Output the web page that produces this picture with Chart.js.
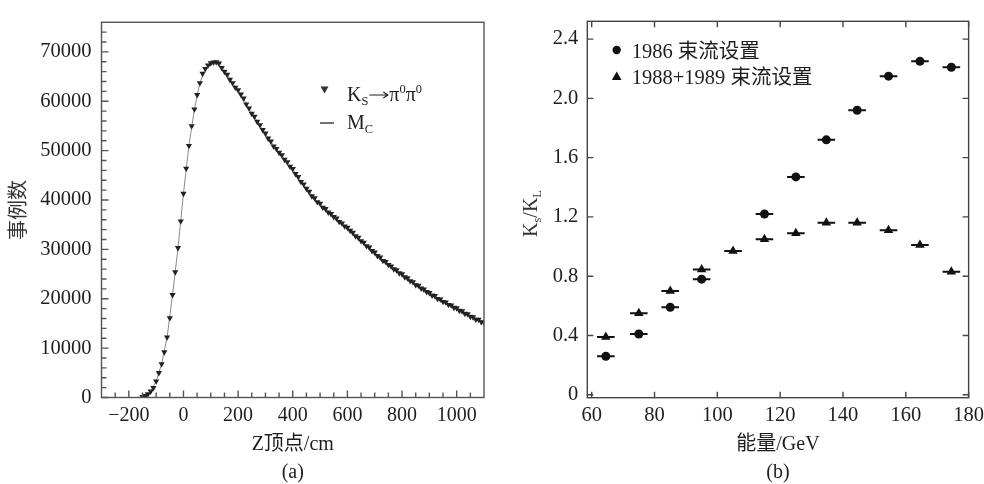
<!DOCTYPE html>
<html lang="zh">
<head>
<meta charset="utf-8">
<script src="https://cdn.jsdelivr.net/npm/chart.js@4.4.1/dist/chart.umd.min.js"></script>
<style>
  html, body { margin: 0; padding: 0; background: #fff; width: 984px; height: 484px; overflow: hidden; }
  .pane { position: absolute; top: 0; width: 500px; height: 484px; }
  #paneA { left: 0; }
  #paneB { left: 490px; }
</style>
</head>
<body>
<div class="pane" id="paneA"><canvas id="chartA" width="500" height="484"></canvas></div>
<div class="pane" id="paneB"><canvas id="chartB" width="500" height="484"></canvas></div>
<script>
// ==================== (a) Z 顶点分布 ====================
const zBins = [
  -150, -140, -130, -120, -110, -100, -90, -80, -70, -60, -50, -40, -30, -20, -10,
  0, 10, 20, 30, 40, 50, 60, 70, 80, 90, 100, 110, 120, 130, 140, 150, 160, 170, 180, 190,
  200, 210, 220, 230, 240, 250, 260, 270, 280, 290, 300, 310, 320, 330, 340, 350, 360, 370, 380, 390,
  400, 410, 420, 430, 440, 450, 460, 470, 480, 490, 500, 510, 520, 530, 540, 550, 560, 570, 580, 590,
  600, 610, 620, 630, 640, 650, 660, 670, 680, 690, 700, 710, 720, 730, 740, 750, 760, 770, 780, 790,
  800, 810, 820, 830, 840, 850, 860, 870, 880, 890, 900, 910, 920, 930, 940, 950, 960, 970, 980, 990,
  1000, 1010, 1020, 1030, 1040, 1050, 1060, 1070, 1080, 1090, 1100
];
const ksCounts = [
  120, 330, 700, 1250, 1950, 3300, 5000, 6800, 9200, 12200, 16100, 20800, 25400, 30300, 35700,
  41300, 46400, 51000, 55000, 58400, 61300, 63700, 65600, 66600, 67300, 67750, 67900, 67950, 67700, 66800, 66000, 65400, 64400, 63700, 62800,
  62300, 61400, 60600, 59400, 58600, 57500, 56900, 55900, 55200, 54200, 53500, 52500, 51900, 50900, 50400, 49600, 49100, 48200, 47700, 46800,
  46300, 45300, 44700, 43700, 43200, 42300, 41700, 40800, 40400, 39600, 39300, 38500, 38200, 37500, 37200, 36600, 36300, 35600, 35300, 34700,
  34400, 33800, 33400, 32700, 32400, 31700, 31400, 30700, 30400, 29700, 29400, 28700, 28400, 27700, 27500, 26900, 26600, 26000, 25800, 25200,
  25000, 24400, 24200, 23600, 23400, 22800, 22700, 22100, 21900, 21400, 21200, 20700, 20600, 20000, 19900, 19400, 19300, 18800, 18700, 18200,
  18100, 17600, 17500, 17000, 16900, 16400, 16300, 15800, 15800, 15300, 15200
];
// Monte Carlo
const mcZ = [
  -200, -180, -160, -140, -120, -100, -80, -60, -40, -20, 0, 20, 40, 60, 80, 100, 120, 140, 160, 180,
  200, 220, 240, 260, 280, 300, 320, 340, 360, 380, 400, 420, 440, 460, 480, 500, 520, 540, 560, 580,
  600, 620, 640, 660, 680, 700, 720, 740, 760, 780, 800, 820, 840, 860, 880, 900, 920, 940, 960, 980,
  1000, 1020, 1040, 1060, 1080, 1100
];
const mcCounts = [
  0, 0, 40, 320, 1250, 3300, 6800, 12200, 20800, 30300, 41300, 51000, 58400, 63700, 66600, 67700, 67900, 66800, 65300, 63700,
  62200, 60500, 58500, 56800, 55100, 53400, 51800, 50300, 49000, 47600, 46200, 44600, 43100, 41600, 40300, 39200, 38100, 37100, 36200, 35200,
  34300, 33300, 32300, 31300, 30300, 29300, 28300, 27400, 26500, 25700, 24900, 24100, 23300, 22600, 21800, 21100, 20500, 19800, 19200, 18600,
  18000, 17400, 16800, 16200, 15700, 15200
];
const zTicks = [-200, 0, 200, 400, 600, 800, 1000];
const countTicks = [0, 10000, 20000, 30000, 40000, 50000, 60000, 70000];

// ==================== (b) K_S/K_L 比值 ====================
const energy86 = [64.5, 75, 85, 95, 115, 125, 134.7, 144.5, 154.5, 164.5, 174.5];
const ratio86 = [0.26, 0.41, 0.59, 0.78, 1.22, 1.47, 1.72, 1.92, 2.15, 2.25, 2.21];
const energy8889 = [64.5, 75, 85, 95, 105, 115, 125, 134.7, 144.5, 154.5, 164.5, 174.5];
const ratio8889 = [0.39, 0.55, 0.70, 0.845, 0.97, 1.05, 1.09, 1.16, 1.16, 1.11, 1.01, 0.83];
const binHalfWidth = 2.8;
const energyTicks = [60, 80, 100, 120, 140, 160, 180];
const ratioTicks = [0, 0.4, 0.8, 1.2, 1.6, 2.0, 2.4];

const FAMILY = '"Liberation Serif", "Noto Sans CJK SC", serif';
const INK = '#1e1e1e';

// chữ có chỉ số trên / dưới
function richText(ctx, parts, x, y, size, align) {
  const runs = parts.map(([t, k]) => {
    const s = k ? size * 0.62 : size;
    ctx.font = `${s}px ${FAMILY}`;
    return { t, k, s, w: ctx.measureText(t).width };
  });
  const total = runs.reduce((a, r) => a + r.w, 0);
  let cx = align === 'center' ? x - total / 2 : x;
  ctx.textAlign = 'left';
  ctx.textBaseline = 'alphabetic';
  runs.forEach(r => {
    ctx.font = `${r.s}px ${FAMILY}`;
    const dy = r.k === 'sub' ? size * 0.22 : r.k === 'sup' ? -size * 0.4 : 0;
    ctx.fillText(r.t, cx, y + dy);
    cx += r.w;
  });
  return cx;
}

// khung + vạch chia hướng vào trong
const frameTicks = {
  id: 'frameTicks',
  afterDraw(chart, args, o) {
    const { ctx, chartArea: a, scales: { x, y } } = chart;
    ctx.save();
    ctx.strokeStyle = o.color;
    ctx.lineWidth = o.lineWidth;
    ctx.strokeRect(a.left, a.top, a.right - a.left, a.bottom - a.top);
    ctx.beginPath();
    o.xTicks.forEach(([v, len]) => {
      const px = x.getPixelForValue(v);
      ctx.moveTo(px, a.bottom); ctx.lineTo(px, a.bottom - len);
      if (o.mirror) { ctx.moveTo(px, a.top); ctx.lineTo(px, a.top + len); }
    });
    o.yTicks.forEach(([v, len]) => {
      const py = y.getPixelForValue(v);
      ctx.moveTo(a.left, py); ctx.lineTo(a.left + len, py);
      if (o.mirror) { ctx.moveTo(a.right, py); ctx.lineTo(a.right - len, py); }
    });
    ctx.stroke();
    ctx.restore();
  }
};

function panelTag(text) {
  return {
    id: 'panelTag',
    afterDraw(chart) {
      const { ctx, chartArea: a } = chart;
      ctx.save();
      ctx.fillStyle = INK;
      ctx.font = `20px ${FAMILY}`;
      ctx.textAlign = 'center';
      ctx.textBaseline = 'middle';
      ctx.fillText(text, (a.left + a.right) / 2, 473);
      ctx.restore();
    }
  };
}

// ---- vạch chia trục (a) ----
const aXTicks = [];
for (let v = -250; v <= 1050; v += 50) aXTicks.push([v, v % 200 === 0 ? 7 : 5]);
const aYTicks = [];
for (let v = 0; v <= 74000; v += 2000) aYTicks.push([v, v % 10000 === 0 ? 7 : 5]);

const legendA = {
  id: 'legendA',
  afterDraw(chart) {
    const ctx = chart.ctx;
    ctx.save();
    ctx.fillStyle = '#333';
    ctx.beginPath();
    ctx.moveTo(320.5, 86.5); ctx.lineTo(328.5, 86.5); ctx.lineTo(324.5, 93.5);
    ctx.closePath();
    ctx.fill();
    ctx.strokeStyle = '#444';
    ctx.lineWidth = 1.5;
    ctx.beginPath();
    ctx.moveTo(320, 123); ctx.lineTo(334, 123);
    ctx.stroke();
    ctx.fillStyle = INK;
    // K_S, mũi tên vẽ tay cho đủ dài, rồi π⁰π⁰
    let cx = richText(ctx, [['K'], ['S', 'sub']], 347, 101, 20);
    ctx.strokeStyle = INK;
    ctx.lineWidth = 1.2;
    ctx.beginPath();
    ctx.moveTo(cx + 1, 95); ctx.lineTo(cx + 19, 95);
    ctx.moveTo(cx + 15, 92); ctx.lineTo(cx + 19.5, 95); ctx.lineTo(cx + 15, 98);
    ctx.stroke();
    richText(ctx, [['π'], ['0', 'sup'], ['π'], ['0', 'sup']], cx + 21, 101, 20);
    richText(ctx, [['M'], ['C', 'sub']], 347, 129, 20);
    ctx.restore();
  }
};

new Chart(document.getElementById('chartA'), {
  type: 'scatter',
  data: {
    datasets: [
      {
        label: 'KS→π0π0',
        data: zBins.map((z, i) => ({ x: z, y: ksCounts[i] })),
        pointStyle: 'triangle',
        rotation: 180,
        pointRadius: 3.6,
        backgroundColor: '#222',
        borderWidth: 0,
        showLine: false
      },
      {
        label: 'MC',
        data: mcZ.map((z, i) => ({ x: z, y: mcCounts[i] })),
        showLine: true,
        borderColor: '#8a8a8a',
        borderWidth: 1,
        pointRadius: 0,
        tension: 0
      }
    ]
  },
  options: {
    responsive: false,
    animation: false,
    events: [],
    layout: { padding: { top: 12, right: 16, left: 0, bottom: 0 } },
    plugins: {
      legend: { display: false },
      tooltip: { enabled: false },
      frameTicks: { color: '#555', lineWidth: 1.4, mirror: false, xTicks: aXTicks, yTicks: aYTicks }
    },
    scales: {
      x: {
        type: 'linear',
        min: -300,
        max: 1100,
        afterBuildTicks: s => { s.ticks = zTicks.map(v => ({ value: v })); },
        afterFit: s => { s.height = 86.5; },
        grid: { display: false, drawTicks: false },
        border: { display: false },
        ticks: {
          color: INK, font: { family: FAMILY, size: 20 }, padding: 6,
          maxRotation: 0, autoSkip: false,
          callback: v => v < 0 ? '\u2212' + Math.abs(v) : String(v)
        },
        title: {
          display: true, text: 'Z顶点/cm', color: INK,
          font: { family: FAMILY, size: 20 }, padding: { top: 0, bottom: 27 }
        }
      },
      y: {
        type: 'linear',
        min: 0,
        max: 76000,
        afterBuildTicks: s => { s.ticks = countTicks.map(v => ({ value: v })); },
        afterFit: s => { s.width = 101.5; },
        grid: { display: false, drawTicks: false },
        border: { display: false },
        ticks: {
          color: INK, font: { family: FAMILY, size: 20.5 }, padding: 10, autoSkip: false,
          callback: v => String(v)
        },
        title: {
          display: true, text: '事例数', color: '#333',
          font: { family: FAMILY, size: 20 }, padding: { top: 8, bottom: 0 }
        }
      }
    }
  },
  plugins: [frameTicks, legendA, panelTag('(a)')]
});

// ---- (b) ----
const errorBars = {
  id: 'errorBars',
  beforeDatasetsDraw(chart) {
    const { ctx, scales: { x, y } } = chart;
    ctx.save();
    ctx.strokeStyle = '#111';
    ctx.lineWidth = 2;
    ctx.beginPath();
    chart.data.datasets.forEach(ds => {
      ds.data.forEach(p => {
        const py = y.getPixelForValue(p.y);
        ctx.moveTo(x.getPixelForValue(p.x - binHalfWidth), py);
        ctx.lineTo(x.getPixelForValue(p.x + binHalfWidth), py);
      });
    });
    ctx.stroke();
    ctx.restore();
  }
};

const legendB = {
  id: 'legendB',
  afterDraw(chart) {
    const { ctx, chartArea: a } = chart;
    ctx.save();
    ctx.fillStyle = '#111';
    ctx.beginPath();
    ctx.arc(126.7, 50, 4.2, 0, Math.PI * 2);
    ctx.fill();
    ctx.beginPath();
    ctx.moveTo(126.7, 71.5); ctx.lineTo(131.5, 80); ctx.lineTo(121.9, 80);
    ctx.closePath();
    ctx.fill();
    ctx.fillStyle = INK;
    richText(ctx, [['1986 束流设置']], 141.7, 57.5, 20.5);
    richText(ctx, [['1988+1989 束流设置']], 141.7, 83.5, 20.5);

    // 纵轴标题 K_s/K_L
    ctx.translate(40, (a.top + a.bottom) / 2 + 4);
    ctx.rotate(-Math.PI / 2);
    ctx.fillStyle = '#333';
    richText(ctx, [['K'], ['s', 'sub'], ['/K'], ['L', 'sub']], 0, 7, 20, 'center');
    ctx.restore();
  }
};

const bXTicks = energyTicks.map(v => [v, 6]);
const bYTicks = ratioTicks.map(v => [v, 6]);

new Chart(document.getElementById('chartB'), {
  type: 'scatter',
  data: {
    datasets: [
      {
        label: '1986 束流设置',
        data: energy86.map((e, i) => ({ x: e, y: ratio86[i] })),
        pointStyle: 'circle',
        pointRadius: 4.5,
        backgroundColor: '#111',
        borderWidth: 0
      },
      {
        label: '1988+1989 束流设置',
        data: energy8889.map((e, i) => ({ x: e, y: ratio8889[i] })),
        pointStyle: 'triangle',
        pointRadius: 5.5,
        backgroundColor: '#111',
        borderWidth: 0
      }
    ]
  },
  options: {
    responsive: false,
    animation: false,
    events: [],
    layout: { padding: { top: 15, right: 20, left: 0, bottom: 0 } },
    plugins: {
      legend: { display: false },
      tooltip: { enabled: false },
      frameTicks: { color: '#444', lineWidth: 1.4, mirror: true, xTicks: bXTicks, yTicks: bYTicks }
    },
    scales: {
      x: {
        type: 'linear',
        min: 58.6,
        max: 180,
        afterBuildTicks: s => { s.ticks = energyTicks.map(v => ({ value: v })); },
        afterFit: s => { s.height = 86.3; },
        grid: { display: false, drawTicks: false },
        border: { display: false },
        ticks: {
          color: INK, font: { family: FAMILY, size: 20.5 }, padding: 6,
          maxRotation: 0, autoSkip: false, callback: v => String(v)
        },
        title: {
          display: true, text: '能量/GeV', color: INK,
          font: { family: FAMILY, size: 20 }, padding: { top: 0, bottom: 27 }
        }
      },
      y: {
        type: 'linear',
        min: -0.02,
        max: 2.52,
        afterBuildTicks: s => { s.ticks = ratioTicks.map(v => ({ value: v })); },
        afterFit: s => { s.width = 97.3; },
        grid: { display: false, drawTicks: false },
        border: { display: false },
        ticks: {
          color: INK, font: { family: FAMILY, size: 20.5 }, padding: 9, autoSkip: false,
          callback: v => v === 0 ? '0' : v.toFixed(1)
        }
      }
    }
  },
  plugins: [errorBars, frameTicks, legendB, panelTag('(b)')]
});
</script>
</body>
</html>
